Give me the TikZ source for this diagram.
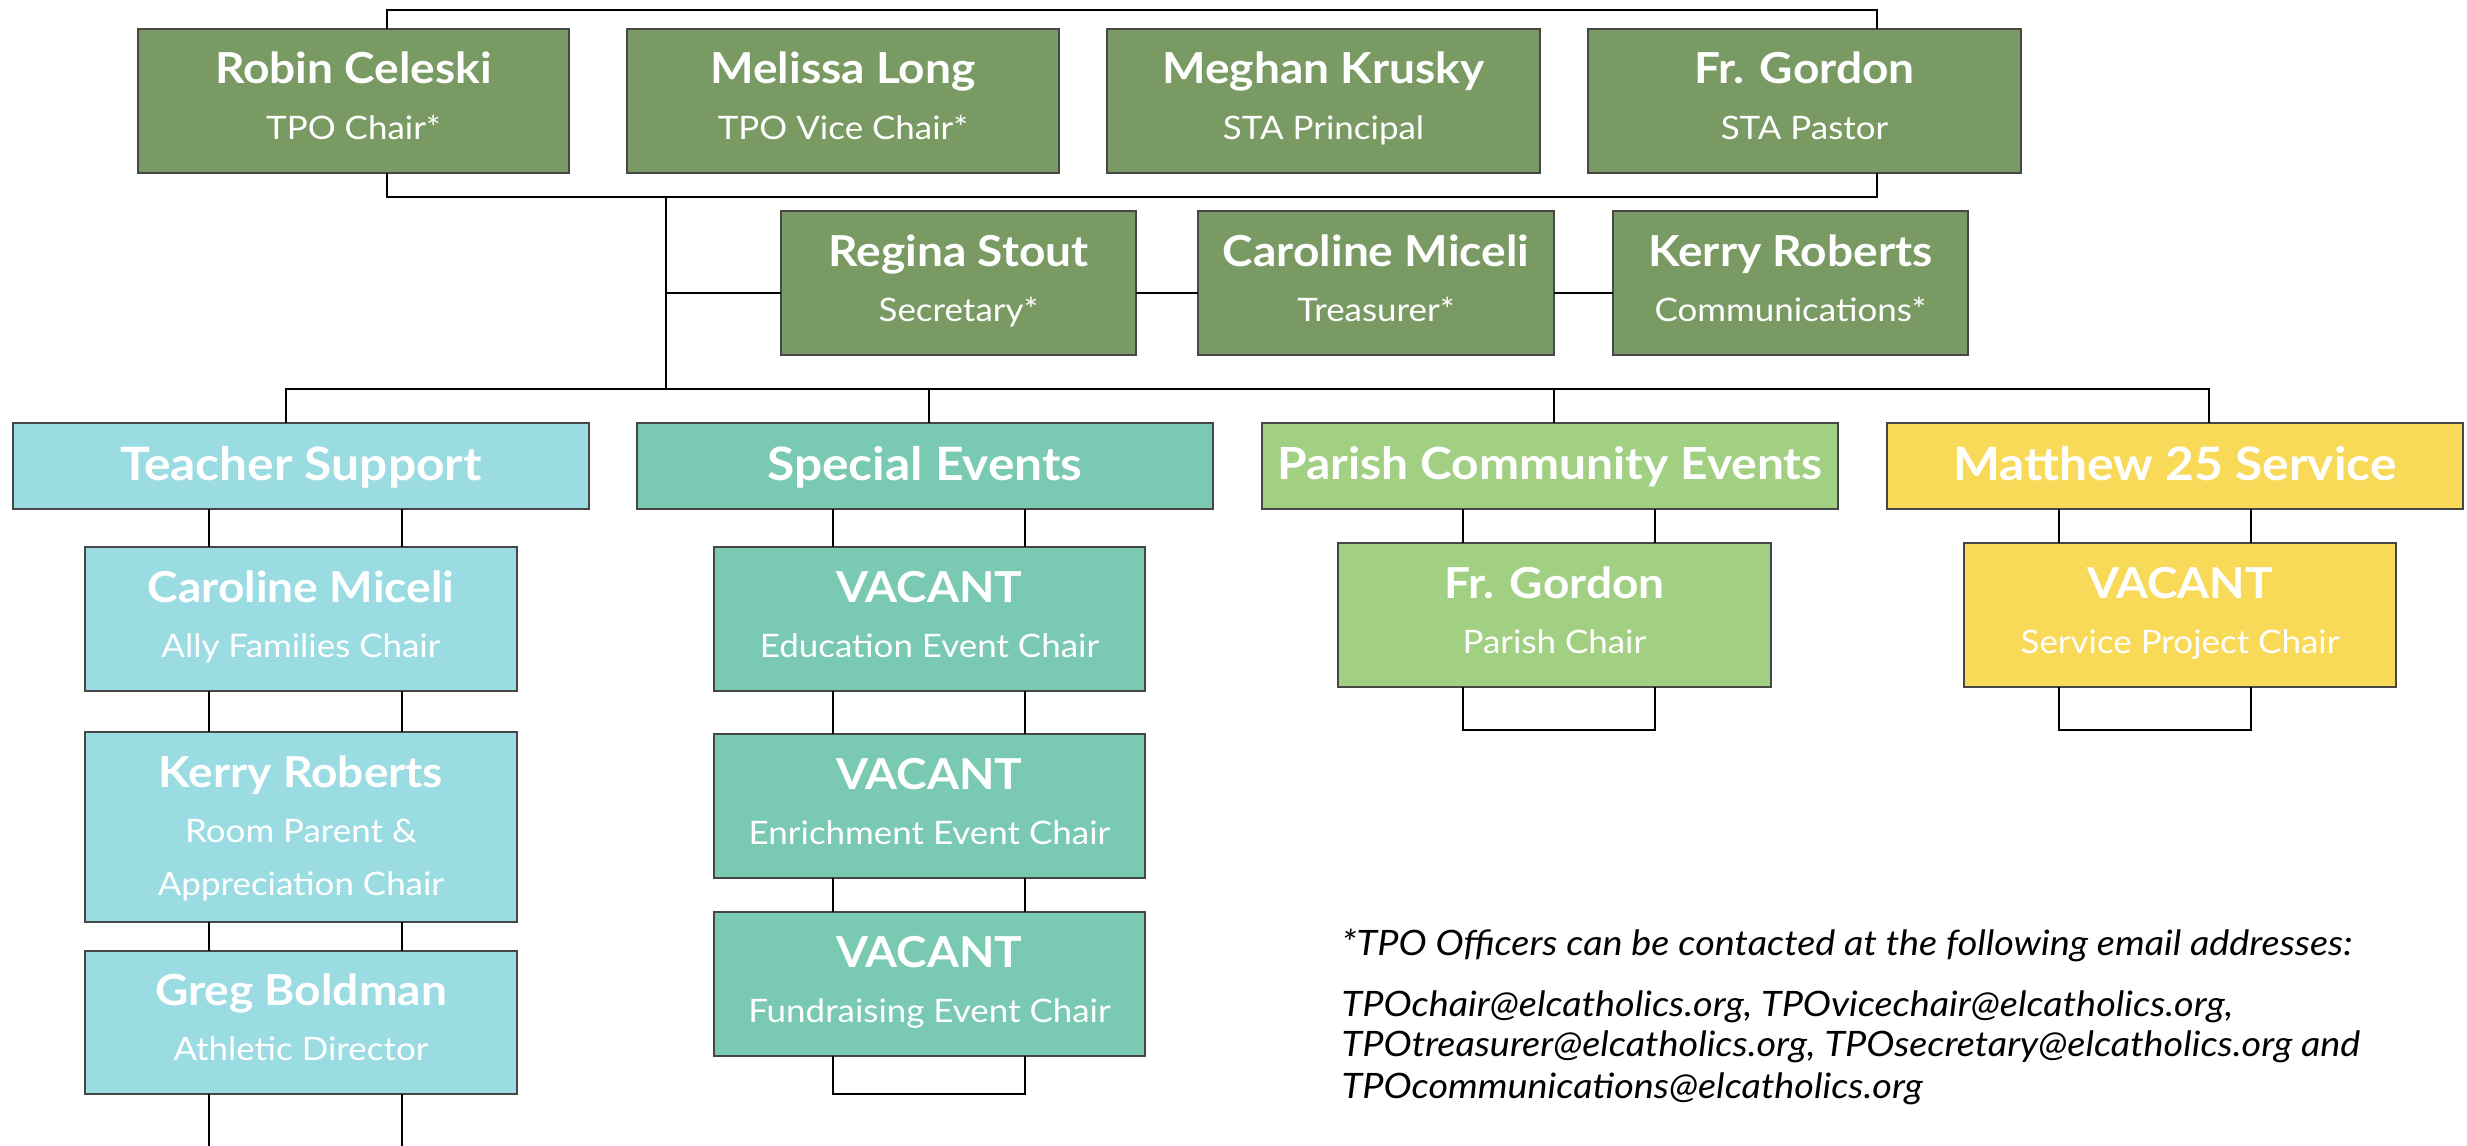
\documentclass[tikz,border=0pt]{standalone}
\usepackage{fontspec}
\setmainfont{Lato}[FakeStretch=1.08]
\usetikzlibrary{calc}
\definecolor{cOff}{HTML}{7A9A63}
\definecolor{cTea}{HTML}{9BDCE3}
\definecolor{cSpe}{HTML}{79C9B3}
\definecolor{cPar}{HTML}{A2D083}
\definecolor{cMat}{HTML}{F9D958}
\newcommand\mkbox[6]{%
  \node[box,fill=#2,minimum width={(#5-#3)*0.3pt},minimum height={(#6-#4)*0.3pt}] (#1) at (#3,#4) {};}
\newcommand\mkperson[5]{% box id, text id prefix, name, sub, name offset
  \node[nametext] (#2n) at ($(#1.north)+(0,#5)$) {#3};
  \node[subtext] (#2s) at ($(#1.north)+(0,#5+55)$) {#4};}
\begin{document}
\begin{tikzpicture}[x=0.3pt,y=-0.3pt,
  box/.style={draw=black!72, line width=0.6pt, inner sep=0pt, outer sep=0pt, anchor=north west},
  nametext/.style={text=white, font=\fontsize{12.8}{14}\selectfont\bfseries, anchor=base, inner sep=0pt},
  subtext/.style={text=white, font=\fontsize{9.7}{11}\selectfont, anchor=base, inner sep=0pt},
  cattext/.style={text=white, font=\fontsize{13.8}{16}\selectfont\bfseries, anchor=base, inner sep=0pt},
  notetext/.style={text=black, font=\fontsize{10.5}{12}\selectfont\itshape, anchor=base west, inner sep=0pt},
  link/.style={draw=black, line width=0.7pt},
]
\useasboundingbox (0,0) rectangle (2467,1145);

% ---- officers
\mkbox{robin}{cOff}{138}{29}{569}{173}
\mkbox{melissa}{cOff}{627}{29}{1059}{173}
\mkbox{meghan}{cOff}{1107}{29}{1540}{173}
\mkbox{gordonA}{cOff}{1588}{29}{2021}{173}
\mkbox{regina}{cOff}{781}{211}{1136}{355}
\mkbox{carolineA}{cOff}{1198}{211}{1554}{355}
\mkbox{kerryA}{cOff}{1613}{211}{1968}{355}
\mkperson{robin}{trobin}{Robin Celeski}{TPO Chair*}{55}
\mkperson{melissa}{tmelissa}{Melissa Long}{TPO Vice Chair*}{55}
\mkperson{meghan}{tmeghan}{Meghan Krusky}{STA Principal}{55}
\mkperson{gordonA}{tgordonA}{Fr. Gordon}{STA Pastor}{55}
\mkperson{regina}{tregina}{Regina Stout}{Secretary*}{55}
\mkperson{carolineA}{tcarolineA}{Caroline Miceli}{Treasurer*}{55}
\mkperson{kerryA}{tkerryA}{Kerry Roberts}{Communications*}{55}

% ---- categories
\mkbox{teach}{cTea}{13}{423}{589}{509}
\mkbox{spec}{cSpe}{637}{423}{1213}{509}
\mkbox{par}{cPar}{1262}{423}{1838}{509}
\mkbox{mat}{cMat}{1887}{423}{2463}{509}
\node[cattext] (tteach) at ($(teach.north)+(0,57)$) {Teacher Support};
\node[cattext] (tspec) at ($(spec.north)+(0,57)$) {Special Events};
\node[cattext,font=\fontsize{13.3}{16}\selectfont\bfseries] (tpar) at ($(par.north)+(0,56)$) {Parish Community Events};
\node[cattext] (tmat) at ($(mat.north)+(0,57)$) {Matthew 25 Service};

% ---- teacher support members
\mkbox{tc1}{cTea}{85}{547}{517}{691}
\mkbox{tc2}{cTea}{85}{732}{517}{922}
\mkbox{tc3}{cTea}{85}{951}{517}{1094}
\mkperson{tc1}{ttc1}{Caroline Miceli}{Ally Families Chair}{55}
\mkperson{tc2}{ttc2}{Kerry Roberts}{Room Parent \&}{55}
\node[subtext] (ttc2b) at ($(tc2.north)+(0,163)$) {Appreciation Chair};
\mkperson{tc3}{ttc3}{Greg Boldman}{Athletic Director}{54}

% ---- special events members
\mkbox{sc1}{cSpe}{714}{547}{1145}{691}
\mkbox{sc2}{cSpe}{714}{734}{1145}{878}
\mkbox{sc3}{cSpe}{714}{912}{1145}{1056}
\mkperson{sc1}{tsc1}{VACANT}{Education Event Chair}{55}
\mkperson{sc2}{tsc2}{VACANT}{Enrichment Event Chair}{55}
\mkperson{sc3}{tsc3}{VACANT}{Fundraising Event Chair}{55}

% ---- parish and service members
\mkbox{pc1}{cPar}{1338}{543}{1771}{687}
\mkbox{mc1}{cMat}{1964}{543}{2396}{687}
\mkperson{pc1}{tpc1}{Fr. Gordon}{Parish Chair}{55}
\mkperson{mc1}{tmc1}{VACANT}{Service Project Chair}{55}

% ---- connectors among officers
\coordinate (tA) at (387,10);
\coordinate (tB) at (1877,10);
\coordinate (bA) at (387,197);
\coordinate (bB) at (1877,197);
\coordinate (vA) at (666,197);
\coordinate (yR) at (0,293);
\coordinate (hL) at (286,389);
\coordinate (hR) at (2209,389);
\draw[link] (tA |- robin.north) -- (tA) -- (tB) -- (tB |- gordonA.north);
\draw[link] (bA |- robin.south) -- (bA) -- (bB) -- (bB |- gordonA.south);
\draw[link] (vA) -- (vA |- hL);
\draw[link] (vA |- yR) -- (regina.west |- yR);
\draw[link] (regina.east |- yR) -- (carolineA.west |- yR);
\draw[link] (carolineA.east |- yR) -- (kerryA.west |- yR);
\draw[link] (hL |- teach.north) -- (hL) -- (hR) -- (hR |- mat.north);
\coordinate (xS) at (929,389);
\coordinate (xP) at (1554,389);
\draw[link] (xS) -- (xS |- spec.north);
\draw[link] (xP) -- (xP |- par.north);

% ---- connectors inside columns
\coordinate (ta) at (209,0);
\coordinate (tb) at (402,0);
\coordinate (sa) at (833,0);
\coordinate (sb) at (1025,0);
\coordinate (pa) at (1463,0);
\coordinate (pb) at (1655,0);
\coordinate (ma) at (2059,0);
\coordinate (mb) at (2251,0);
\coordinate (bottomEnd) at (0,1150);
\coordinate (loopS) at (0,1094);
\coordinate (loopP) at (0,730);
\foreach \u/\v in {teach/tc1,tc1/tc2,tc2/tc3}{
  \draw[link] (ta |- \u.south) -- (ta |- \v.north);
  \draw[link] (tb |- \u.south) -- (tb |- \v.north);}
\draw[link] (ta |- tc3.south) -- (ta |- bottomEnd);
\draw[link] (tb |- tc3.south) -- (tb |- bottomEnd);
\foreach \u/\v in {spec/sc1,sc1/sc2,sc2/sc3}{
  \draw[link] (sa |- \u.south) -- (sa |- \v.north);
  \draw[link] (sb |- \u.south) -- (sb |- \v.north);}
\draw[link] (sa |- sc3.south) -- (sa |- loopS) -- (sb |- loopS) -- (sb |- sc3.south);
\draw[link] (pa |- par.south) -- (pa |- pc1.north);
\draw[link] (pb |- par.south) -- (pb |- pc1.north);
\draw[link] (pa |- pc1.south) -- (pa |- loopP) -- (pb |- loopP) -- (pb |- pc1.south);
\draw[link] (ma |- mat.south) -- (ma |- mc1.north);
\draw[link] (mb |- mat.south) -- (mb |- mc1.north);
\draw[link] (ma |- mc1.south) -- (ma |- loopP) -- (mb |- loopP) -- (mb |- mc1.south);

% ---- footnote
\node[notetext] (note) at (1341,955) {*TPO Officers can be contacted at the following email addresses:};
\node[notetext] (mail1) at (1341,1016) {TPOchair@elcatholics.org, TPOvicechair@elcatholics.org,};
\node[notetext] (mail2) at (1341,1056) {TPOtreasurer@elcatholics.org, TPOsecretary@elcatholics.org and};
\node[notetext] (mail3) at (1341,1098) {TPOcommunications@elcatholics.org};
\end{tikzpicture}
\end{document}
